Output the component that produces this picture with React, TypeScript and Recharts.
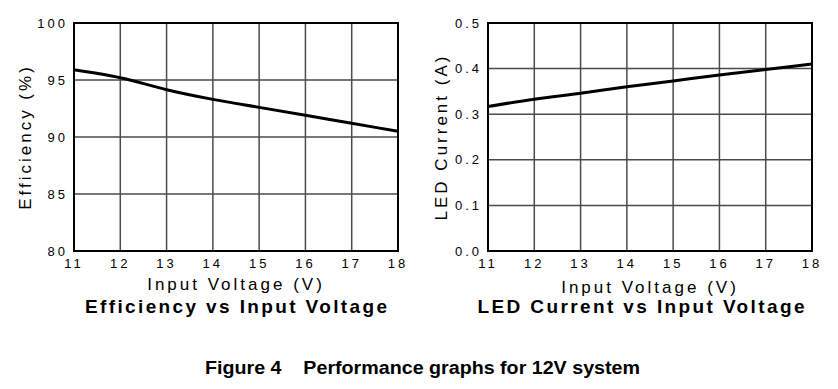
import React from 'react'
import {
  LineChart,
  Line,
  XAxis,
  YAxis,
  CartesianGrid,
  ReferenceArea,
} from 'recharts'

const voltage = [11, 12, 13, 14, 15, 16, 17, 18]
const efficiency = [95.9, 95.2, 94.15, 93.3, 92.6, 91.9, 91.2, 90.5]
const ledCurrent = [0.317, 0.333, 0.346, 0.36, 0.373, 0.386, 0.398, 0.41]
const efficiencyTicks = [80, 85, 90, 95, 100]
const currentTicks = [0, 0.1, 0.2, 0.3, 0.4, 0.5]

const FONT = '"Liberation Sans", Arial, sans-serif'

const effData = voltage.map((v, i) => ({ v, y: efficiency[i] }))
const curData = voltage.map((v, i) => ({ v, y: ledCurrent[i] }))

interface PerfChartProps {
  data: { v: number; y: number }[]
  yTicks: number[]
  yLabel: string
  xLabel: string
  title: string
  yFormat: (n: number) => string
  yAxisWidth: number
  marginRight: number
  yLabelX: number
  xLabelDy: number
  titleDy: number
  titleWidth: number
  titleShift: number
}

const PerfChart: React.FC<PerfChartProps> = ({
  data,
  yTicks,
  yLabel,
  xLabel,
  title,
  yFormat,
  yAxisWidth,
  marginRight,
  yLabelX,
  xLabelDy,
  titleDy,
  titleWidth,
  titleShift,
}) => {
  const yMin = yTicks[0]
  const yMax = yTicks[yTicks.length - 1]
  const tick = { fill: '#000', fontSize: 13, letterSpacing: 3, fontFamily: FONT }

  return (
    <LineChart
      width={420}
      height={340}
      data={data}
      margin={{ top: 23, right: marginRight, left: 0, bottom: 0 }}
      style={{ fontFamily: FONT }}
    >
      <CartesianGrid stroke="#4a4a4a" strokeWidth={1.5} />
      <XAxis
        dataKey="v"
        type="number"
        domain={[11, 18]}
        ticks={voltage}
        axisLine={false}
        tickLine={false}
        tickSize={0}
        tickMargin={8}
        height={89}
        tick={tick}
        label={{
          content: (props: any) => {
            const vb = props.viewBox || {}
            const cx = vb.x + vb.width / 2
            return (
              <g>
                <text
                  x={cx}
                  y={vb.y + xLabelDy}
                  textAnchor="middle"
                  fontSize={17}
                  letterSpacing={3}
                  fontFamily={FONT}
                  fill="#000"
                >
                  {xLabel}
                </text>
                <text
                  x={cx + titleShift}
                  y={vb.y + titleDy}
                  textAnchor="middle"
                  fontSize={19}
                  fontWeight="bold"
                  textLength={titleWidth}
                  lengthAdjust="spacing"
                  fontFamily={FONT}
                  fill="#000"
                >
                  {title}
                </text>
              </g>
            )
          },
        }}
      />
      <YAxis
        type="number"
        domain={[yMin, yMax]}
        ticks={yTicks}
        axisLine={false}
        tickLine={false}
        tickSize={0}
        tickMargin={6}
        width={yAxisWidth}
        tick={tick}
        tickFormatter={yFormat}
        label={{
          content: (props: any) => {
            const vb = props.viewBox || {}
            const cx = vb.x + yLabelX
            const cy = vb.y + vb.height / 2
            return (
              <text
                x={cx}
                y={cy}
                transform={`rotate(-90 ${cx} ${cy})`}
                textAnchor="middle"
                dominantBaseline="central"
                fontSize={17}
                letterSpacing={3}
                fontFamily={FONT}
                fill="#000"
              >
                {yLabel}
              </text>
            )
          },
        }}
      />
      <ReferenceArea x1={11} x2={18} y1={yMin} y2={yMax} fill="none" stroke="#000" strokeWidth={2} />
      <Line
        type="monotone"
        dataKey="y"
        stroke="#000"
        strokeWidth={3}
        dot={false}
        isAnimationActive={false}
      />
    </LineChart>
  )
}

export default function App() {
  return (
    <div style={{ position: 'absolute', left: 0, top: 0, width: 838, height: 389, background: '#fff' }}>
      <div style={{ position: 'absolute', left: 0, top: 0 }}>
        <PerfChart
          data={effData}
          yTicks={efficiencyTicks}
          yLabel="Efficiency (%)"
          xLabel="Input Voltage (V)"
          title="Efficiency vs Input Voltage"
          yFormat={(n) => String(n)}
          yAxisWidth={74}
          marginRight={22}
          yLabelX={25}
          xLabelDy={39}
          titleDy={62}
          titleWidth={302}
          titleShift={0}
        />
      </div>
      <div style={{ position: 'absolute', left: 418, top: 0 }}>
        <PerfChart
          data={curData}
          yTicks={currentTicks}
          yLabel="LED Current (A)"
          xLabel="Input Voltage (V)"
          title="LED Current vs Input Voltage"
          yFormat={(n) => n.toFixed(1)}
          yAxisWidth={70}
          marginRight={26}
          yLabelX={23}
          xLabelDy={42}
          titleDy={62}
          titleWidth={327}
          titleShift={-9}
        />
      </div>
      <svg width={838} height={49} style={{ position: 'absolute', left: 0, top: 340 }}>
        <text
          x={205}
          y={34}
          fontSize={18}
          fontWeight="bold"
          fontFamily={FONT}
          textLength={435}
          lengthAdjust="spacingAndGlyphs"
          fill="#000"
          style={{ whiteSpace: 'pre' }}
        >
          {'Figure 4    Performance graphs for 12V system'}
        </text>
      </svg>
    </div>
  )
}
